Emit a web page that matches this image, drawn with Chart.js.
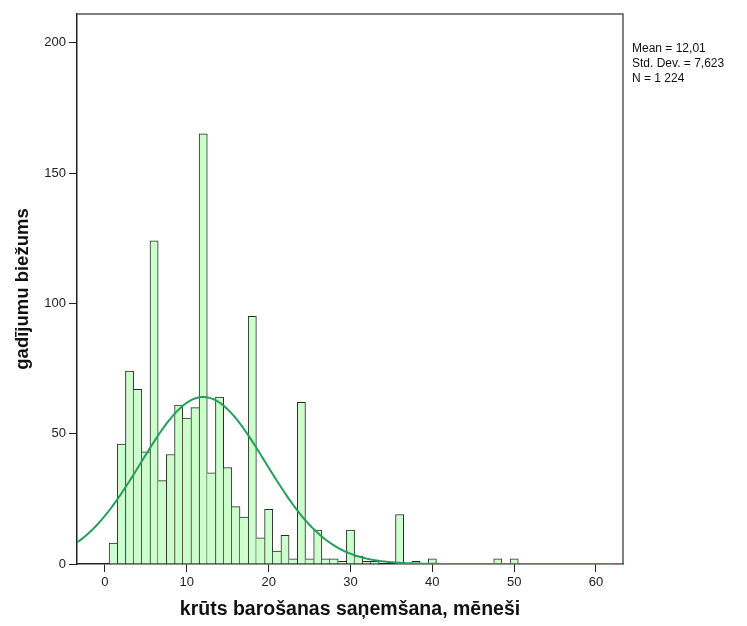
<!DOCTYPE html>
<html>
<head>
<meta charset="utf-8">
<script src="https://cdn.jsdelivr.net/npm/chart.js@4/dist/chart.umd.min.js"></script>
<style>
  html, body { margin: 0; padding: 0; background: #fff; }
  #wrap { width: 747px; height: 626px; }
</style>
</head>
<body>
<div id="wrap"><canvas id="histChart" width="747" height="626"></canvas></div>
<script>
// Histogramma: krūts barošanas saņemšana (mēneši)
const months = [1, 2, 3, 4, 5, 6, 7, 8, 9, 10, 11, 12, 13, 14, 15, 16, 17, 18, 19, 20,
                21, 22, 23, 24, 25, 26, 27, 28, 29, 30, 31, 32, 33, 36, 38, 40, 48, 50];
const counts = [8, 46, 74, 67, 43, 124, 32, 42, 61, 56, 60, 165, 35, 64, 37, 22, 18, 95, 10, 21,
                5, 11, 2, 62, 2, 13, 2, 2, 1, 13, 3, 1, 1, 19, 1, 2, 2, 2];
const xTicks = [0, 10, 20, 30, 40, 50, 60];
const yTicks = [0, 50, 100, 150, 200];
const statLines = ['Mean = 12,01', 'Std. Dev. = 7,623', 'N = 1 224'];
const mean = 12.01;
const stdDev = 7.623;
const total = 1224;

const xMin = -3.42, xMax = 63.3;
const FONT = "'Liberation Sans', Arial, sans-serif";

// normālā līkne pēc Mean / Std. Dev. / N (bin platums = 1)
const curve = [];
for (let x = xMin; x <= xMax + 0.001; x += 0.2) {
    const z = (x - mean) / stdDev;
    curve.push({ x: x, y: total / (stdDev * Math.sqrt(2 * Math.PI)) * Math.exp(-0.5 * z * z) });
}

// kopīgo malu zīmē augstākais stabiņš, lai līnija nav dubulta
function barBorder(ctx) {
    const i = ctx.dataIndex;
    const v = counts[i];
    const hasPrev = i > 0 && months[i - 1] === months[i] - 1;
    const hasNext = i < months.length - 1 && months[i + 1] === months[i] + 1;
    return {
        top: 1,
        left: (!hasPrev || counts[i - 1] < v) ? 1 : 0,
        right: (!hasNext || counts[i + 1] <= v) ? 1 : 0,
        bottom: 0
    };
}

// rāmis + statistika labajā pusē
const framePlugin = {
    id: 'frame',
    afterDraw(chart) {
        const { ctx, chartArea: a } = chart;
        ctx.save();
        ctx.strokeStyle = '#555';
        ctx.lineWidth = 1.5;
        ctx.beginPath();
        ctx.moveTo(a.left, a.top);
        ctx.lineTo(a.right, a.top);
        ctx.lineTo(a.right, a.bottom);
        ctx.stroke();
        ctx.fillStyle = '#111';
        ctx.font = '12px ' + FONT;
        ctx.textBaseline = 'middle';
        statLines.forEach((t, i) => ctx.fillText(t, 632, 49 + i * 15));
        ctx.restore();
    }
};

new Chart(document.getElementById('histChart').getContext('2d'), {
    data: {
        datasets: [
            {
                type: 'line',
                order: 0,
                data: curve,
                borderColor: '#24a05c',
                borderWidth: 2,
                pointRadius: 0,
                tension: 0,
                fill: false
            },
            {
                type: 'bar',
                order: 1,
                data: months.map((m, i) => ({ x: m, y: counts[i] })),
                backgroundColor: '#ccffcc',
                borderColor: '#2a2a2a',
                borderWidth: barBorder,
                borderSkipped: false,
                barPercentage: 1,
                categoryPercentage: 1
            }
        ]
    },
    options: {
        responsive: false,
        animation: false,
        layout: { padding: { left: 0, top: 14, right: 124, bottom: 0 } },
        plugins: { legend: { display: false }, tooltip: { enabled: false } },
        scales: {
            x: {
                type: 'linear',
                offset: false,
                min: xMin,
                max: xMax,
                afterBuildTicks: s => { s.ticks = xTicks.map(v => ({ value: v })); },
                afterFit: s => { s.height = 62; },
                grid: { display: true, offset: false, drawOnChartArea: false, drawTicks: true, tickLength: 8, color: '#222' },
                border: { display: true, color: '#222', width: 1.5 },
                ticks: { color: '#222', font: { family: FONT, size: 13 }, padding: 3, maxRotation: 0 },
                title: {
                    display: true,
                    text: 'krūts barošanas saņemšana, mēneši',
                    color: '#111',
                    font: { family: FONT, size: 19.5, weight: 'bold' },
                    padding: { top: 0, bottom: 5 }
                }
            },
            y: {
                type: 'linear',
                min: 0,
                max: 211,
                afterBuildTicks: s => { s.ticks = yTicks.map(v => ({ value: v })); },
                afterFit: s => { s.width = 77; },
                grid: { display: true, drawOnChartArea: false, drawTicks: true, tickLength: 8, color: '#222' },
                border: { display: true, color: '#222', width: 1.5 },
                ticks: { color: '#222', font: { family: FONT, size: 13 }, padding: 3 },
                title: {
                    display: true,
                    text: 'gadījumu biežums',
                    color: '#111',
                    font: { family: FONT, size: 18.5, weight: 'bold' },
                    padding: { top: 12, bottom: 0 }
                }
            }
        }
    },
    plugins: [framePlugin]
});
</script>
</body>
</html>
